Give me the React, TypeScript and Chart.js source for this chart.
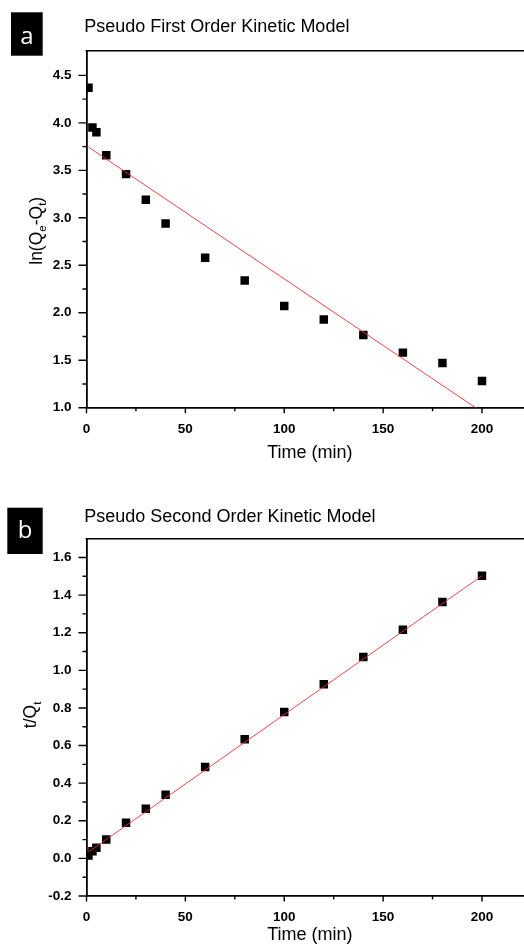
import React, { useEffect, useRef } from 'react';
import { Chart, registerables } from 'chart.js';

Chart.register(...registerables);

// ---------- data ----------
const TIME_MIN = [1, 3, 5, 10, 20, 30, 40, 60, 80, 100, 120, 140, 160, 180, 200];
const LN_QE_QT = [4.37, 3.95, 3.9, 3.66, 3.46, 3.19, 2.94, 2.58, 2.34, 2.07, 1.93, 1.765, 1.58, 1.47, 1.28];
const T_OVER_QT = [0.015, 0.038, 0.056, 0.1, 0.19, 0.264, 0.338, 0.486, 0.633, 0.778, 0.926, 1.071, 1.216, 1.364, 1.503];

const FIT1_X = [1, 200];
const FIT1_Y = [3.745, 0.955];
const FIT2_X = [1, 200];
const FIT2_Y = [0.034, 1.503];

const X_TICKS = [0, 50, 100, 150, 200];
const Y1_TICKS = [1.0, 1.5, 2.0, 2.5, 3.0, 3.5, 4.0, 4.5];
const Y2_TICKS = [-0.2, 0.0, 0.2, 0.4, 0.6, 0.8, 1.0, 1.2, 1.4, 1.6];

const TITLE_A = 'Pseudo First Order Kinetic Model';
const TITLE_B = 'Pseudo Second Order Kinetic Model';
const X_TITLE = 'Time (min)';

const FONT = "'Liberation Sans', Arial, sans-serif";
const LABEL_FONT = "'Open Sans', 'Liberation Sans', sans-serif";
const RED = 'rgba(232, 50, 50, 0.9)';

const CANVAS_W = 540;
const CANVAS_H = 476;

type Seg = { t: string; sub?: boolean };

type PanelCfg = {
  panel: string;
  panelBox: [number, number, number, number];
  panelText: [number, number];
  title: string;
  titleXY: [number, number];
  yTitle: Seg[];
  yTitleXY: [number, number];
  ys: number[];
  fitX: number[];
  fitY: number[];
  yMin: number;
  yMax: number;
  yTicks: number[];
  yMinorStep: number;
  chartTop: number;
  chartBottom: number;
  xTitlePad: number;
};

const decorPlugin = {
  id: 'decor',
  afterDraw(chart: any, _args: any, o: any) {
    const ctx = chart.ctx as CanvasRenderingContext2D;
    const { left, right, top, bottom } = chart.chartArea;
    const xs = chart.scales.x;
    const ys = chart.scales.y;
    ctx.save();
    // top frame line
    ctx.strokeStyle = '#000';
    ctx.lineWidth = 1.5;
    ctx.beginPath();
    ctx.moveTo(left - 0.9, top);
    ctx.lineTo(right, top);
    ctx.stroke();

    // ticks
    ctx.lineWidth = 1.4;
    ctx.beginPath();
    for (const v of X_TICKS) {
      const px = xs.getPixelForValue(v);
      ctx.moveTo(px, bottom);
      ctx.lineTo(px, bottom + 5.5);
    }
    for (let v = 25; v < xs.max; v += 50) {
      const px = xs.getPixelForValue(v);
      ctx.moveTo(px, bottom);
      ctx.lineTo(px, bottom + 3.5);
    }
    for (const v of o.yTicks as number[]) {
      const py = ys.getPixelForValue(v);
      ctx.moveTo(left, py);
      ctx.lineTo(left - 8, py);
    }
    const step = o.yMinorStep as number;
    for (let v = ys.min + step; v < ys.max - 0.01; v += step * 2) {
      const py = ys.getPixelForValue(v);
      ctx.moveTo(left, py);
      ctx.lineTo(left - 4, py);
    }
    ctx.stroke();

    // panel label
    const [bx, by, bw, bh] = o.panelBox;
    ctx.fillStyle = '#000';
    ctx.fillRect(bx, by, bw, bh);
    ctx.fillStyle = '#fff';
    ctx.font = `24px ${LABEL_FONT}`;
    ctx.textAlign = 'center';
    ctx.textBaseline = 'alphabetic';
    ctx.fillText(o.panel, o.panelText[0], o.panelText[1]);

    // title
    ctx.fillStyle = '#000';
    ctx.font = `18px ${FONT}`;
    ctx.textAlign = 'left';
    ctx.fillText(o.title, o.titleXY[0], o.titleXY[1]);

    // y title with subscripts
    const segs = o.yTitle as Seg[];
    const main = 17.5;
    const sub = 11.5;
    let total = 0;
    const widths: number[] = [];
    for (const s of segs) {
      ctx.font = `${s.sub ? sub : main}px ${FONT}`;
      const w = ctx.measureText(s.t).width;
      widths.push(w);
      total += w;
    }
    ctx.translate(o.yTitleXY[0], o.yTitleXY[1]);
    ctx.rotate(-Math.PI / 2);
    let cx = -total / 2;
    segs.forEach((s, i) => {
      ctx.font = `${s.sub ? sub : main}px ${FONT}`;
      ctx.fillText(s.t, cx, s.sub ? 4.5 : 0);
      cx += widths[i];
    });
    ctx.restore();
  },
};

function buildConfig(c: PanelCfg): any {
  return {
    type: 'scatter',
    data: {
      datasets: [
        {
          data: c.fitX.map((x, i) => ({ x, y: c.fitY[i] })),
          showLine: true,
          pointRadius: 0,
          borderColor: RED,
          borderWidth: 1,
          order: 0,
        },
        {
          data: TIME_MIN.map((x, i) => ({ x, y: c.ys[i] })),
          pointStyle: 'rect',
          pointRadius: 6,
          backgroundColor: '#000',
          borderColor: '#000',
          borderWidth: 0,
          order: 1,
        },
      ],
    },
    options: {
      responsive: false,
      animation: false,
      events: [],
      layout: { padding: { top: c.chartTop, right: CANVAS_W - 533.4, left: 0, bottom: 0 } },
      plugins: {
        legend: { display: false },
        tooltip: { enabled: false },
        decor: {
          panel: c.panel,
          panelBox: c.panelBox,
          panelText: c.panelText,
          title: c.title,
          titleXY: c.titleXY,
          yTitle: c.yTitle,
          yTitleXY: c.yTitleXY,
          yTicks: c.yTicks,
          yMinorStep: c.yMinorStep,
        },
      },
      scales: {
        x: {
          type: 'linear',
          position: 'bottom',
          min: 0,
          max: 226,
          afterBuildTicks: (s: any) => {
            s.ticks = X_TICKS.map((value) => ({ value }));
          },
          afterFit: (s: any) => {
            s.height = CANVAS_H - c.chartBottom;
          },
          grid: { display: true, drawOnChartArea: false, drawTicks: false },
          border: { display: true, color: '#000', width: 1.8 },
          ticks: {
            autoSkip: false,
            maxRotation: 0,
            padding: 13,
            color: '#000',
            font: { family: FONT, size: 13.5, weight: 'bold' },
            callback: (v: any) => String(v),
          },
          title: {
            display: true,
            text: X_TITLE,
            color: '#000',
            font: { family: FONT, size: 18 },
            padding: { top: 0, bottom: c.xTitlePad },
          },
        },
        y: {
          type: 'linear',
          position: 'left',
          min: c.yMin,
          max: c.yMax,
          afterBuildTicks: (s: any) => {
            s.ticks = c.yTicks.map((value) => ({ value }));
          },
          afterFit: (s: any) => {
            s.width = 86.5;
          },
          grid: { display: true, drawOnChartArea: false, drawTicks: false },
          border: { display: true, color: '#000', width: 1.8 },
          ticks: {
            autoSkip: false,
            padding: 15,
            color: '#000',
            font: { family: FONT, size: 13.5, weight: 'bold' },
            callback: (v: any) => Number(v).toFixed(1),
          },
        },
      },
    },
    plugins: [decorPlugin],
  };
}

const PANEL_A: PanelCfg = {
  panel: 'a',
  panelBox: [11, 12.3, 31.7, 43.4],
  panelText: [26.8, 44.3],
  title: TITLE_A,
  titleXY: [84.3, 31.7],
  yTitle: [{ t: 'ln(Q' }, { t: 'e', sub: true }, { t: '-Q' }, { t: 't', sub: true }, { t: ')' }],
  yTitleXY: [41.5, 230.8],
  ys: LN_QE_QT,
  fitX: FIT1_X,
  fitY: FIT1_Y,
  yMin: 1.0,
  yMax: 4.76,
  yTicks: Y1_TICKS,
  yMinorStep: 0.25,
  chartTop: 50.7,
  chartBottom: 407.7,
  xTitlePad: 12,
};

const PANEL_B: PanelCfg = {
  panel: 'b',
  panelBox: [7.3, 31.7, 35.4, 46.3],
  panelText: [25, 62.3],
  title: TITLE_B,
  titleXY: [84.3, 45.7],
  yTitle: [{ t: 't/Q' }, { t: 't', sub: true }],
  yTitleXY: [36, 238.9],
  ys: T_OVER_QT,
  fitX: FIT2_X,
  fitY: FIT2_Y,
  yMin: -0.2,
  yMax: 1.7,
  yTicks: Y2_TICKS,
  yMinorStep: 0.1,
  chartTop: 62.7,
  chartBottom: 420,
  xTitlePad: 6.5,
};

function KineticChart({ cfg }: { cfg: PanelCfg }) {
  const ref = useRef<HTMLCanvasElement>(null);
  useEffect(() => {
    const chart = new Chart(ref.current as HTMLCanvasElement, buildConfig(cfg));
    return () => chart.destroy();
  }, [cfg]);
  return (
    <canvas
      ref={ref}
      width={CANVAS_W}
      height={CANVAS_H}
      style={{ display: 'block', width: CANVAS_W, height: CANVAS_H }}
    />
  );
}

export default function App() {
  return (
    <div
      style={{
        position: 'absolute',
        left: 0,
        top: 0,
        width: 524,
        height: 952,
        overflow: 'hidden',
        background: '#fff',
      }}
    >
      <KineticChart cfg={PANEL_A} />
      <KineticChart cfg={PANEL_B} />
    </div>
  );
}
